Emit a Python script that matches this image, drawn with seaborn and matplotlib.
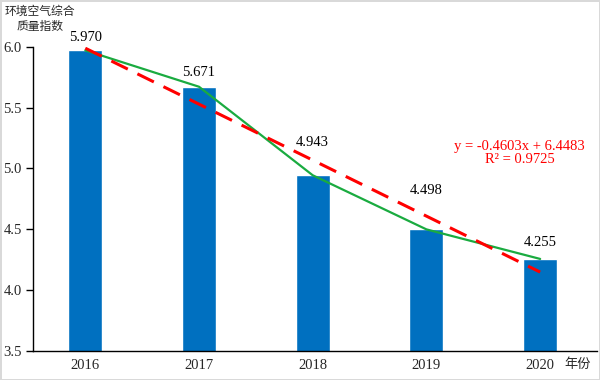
import matplotlib
matplotlib.use("Agg")
import matplotlib.pyplot as plt
import seaborn as sns
import numpy as np
import pandas as pd

years = ["2016", "2017", "2018", "2019", "2020"]
index_values = [5.970, 5.671, 4.943, 4.498, 4.255]
label_texts = ["5.970", "5.671", "4.943", "4.498", "4.255"]
y_ticks = [3.5, 4.0, 4.5, 5.0, 5.5, 6.0]

sns.set_theme(style="white")
plt.rcParams['font.family'] = ['Liberation Serif', 'Noto Sans CJK SC']

df = pd.DataFrame({"year": years, "value": index_values})
df["pos"] = np.arange(len(years))

fig = plt.figure(figsize=(6.0, 3.8), dpi=100)
fig.patch.set_edgecolor("#d9d9d9")
fig.patch.set_linewidth(2)
ax = fig.add_axes([0.055, 0.077, 0.94, 0.80])

sns.barplot(data=df, x="year", y="value", color="#0070C0", width=0.3,
            saturation=1, ax=ax)
sns.lineplot(x=df["pos"], y=df["value"], color="#1AAB40", lw=1.6, ax=ax)
slope, intercept = np.polyfit(df["pos"] + 1, df["value"], 1)
trend = slope * (df["pos"] + 1) + intercept
ax.plot(df["pos"], trend, color="#FF0000", lw=2.2, dashes=(6, 3.5))

offsets = [0.11, 0.115, 0.27, 0.32, 0.135]
for p, v, t, o in zip(df["pos"], index_values, label_texts, offsets):
    ax.text(p, v + o, t, ha="center", va="center", fontsize=10.5,
            family="Liberation Serif", color="black")

ax.text(3.82, 5.13, "y = -0.4603x + 6.4483\nR² = 0.9725", ha="center",
        va="center", color="#FF0000", fontsize=10.5, family="Liberation Serif",
        linespacing=1.0)

ax.set_ylim(3.5, 6.0)
ax.set_xlim(-0.46, 4.5)
ax.set_yticks(y_ticks)
ax.set_yticklabels([f"{t:.1f}" for t in y_ticks], fontsize=10.5)
ax.tick_params(axis="y", direction="out", length=5, width=1, color="black",
               left=True, pad=3)
ax.tick_params(axis="x", length=0, labelsize=10.5, pad=6)
for lab in ax.get_xticklabels() + ax.get_yticklabels():
    lab.set_family("Liberation Serif")
ax.set_xlabel("")
ax.set_ylabel("")
sns.despine(ax=ax, top=True, right=True)
ax.spines["left"].set_color("black")
ax.spines["bottom"].set_color("black")
ax.spines["left"].set_linewidth(1)
ax.spines["bottom"].set_linewidth(1)

fig.text(0.066, 0.95, "环境空气综合\n质量指数", ha="center", va="center",
         fontsize=8.5, family="Noto Sans CJK SC", linespacing=1.25)
fig.text(0.962, 0.04, "年份", ha="center", va="center", fontsize=9.5,
         family="Noto Sans CJK SC")

fig.savefig("out.png", dpi=100)
